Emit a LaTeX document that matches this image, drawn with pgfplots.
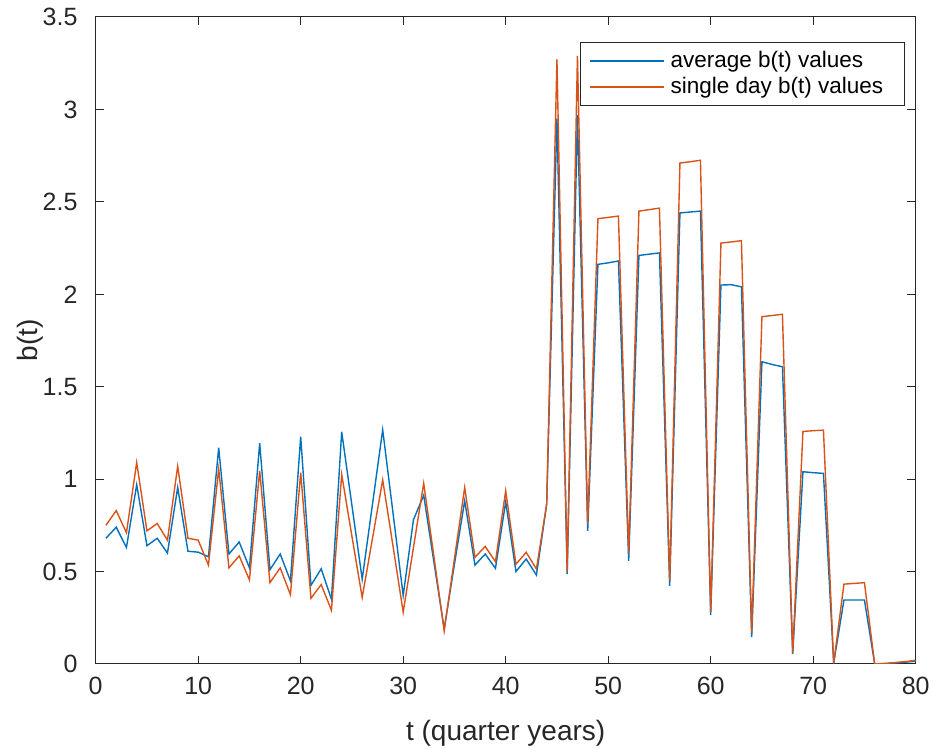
\documentclass[border=0pt]{standalone}
\usepackage{fontspec}
\setmainfont{Liberation Sans}
\usepackage{pgfplots}
\usepackage{pgfplotstable}
\pgfplotsset{compat=1.18}
\definecolor{mblue}{rgb}{0,0.447,0.741}
\definecolor{morange}{rgb}{0.85,0.325,0.098}
\definecolor{maxis}{rgb}{0.15,0.15,0.15}

\pgfplotstableread{
t avg single
1 0.68 0.75
2 0.74 0.83
3 0.63 0.71
4 0.97 1.09
5 0.64 0.72
6 0.68 0.76
7 0.60 0.67
8 0.955 1.07
9 0.61 0.68
10 0.605 0.67
11 0.58 0.535
12 1.17 1.055
13 0.595 0.52
14 0.66 0.585
15 0.52 0.455
16 1.195 1.045
17 0.51 0.44
18 0.595 0.52
19 0.45 0.375
20 1.23 1.035
21 0.425 0.355
22 0.515 0.43
23 0.35 0.29
24 1.256 1.025
25 0.857 0.69
26 0.459 0.36
27 0.863 0.678
28 1.267 0.996
29 0.82 0.64
30 0.37 0.28
31 0.78 0.63
32 0.913 0.978
33 0.55 0.58
34 0.19 0.18
35 0.54 0.57
36 0.883 0.955
37 0.535 0.577
38 0.595 0.636
39 0.517 0.553
40 0.877 0.937
41 0.50 0.54
42 0.568 0.604
43 0.481 0.514
44 0.865 0.865
45 2.95 3.27
46 0.486 0.50
47 2.97 3.29
48 0.72 0.76
49 2.162 2.409
50 2.17 2.416
51 2.18 2.423
52 0.558 0.60
53 2.21 2.45
54 2.217 2.458
55 2.224 2.466
56 0.423 0.45
57 2.44 2.71
58 2.445 2.717
59 2.45 2.725
60 0.265 0.28
61 2.05 2.277
62 2.052 2.283
63 2.04 2.29
64 0.145 0.17
65 1.635 1.879
66 1.62 1.885
67 1.608 1.892
68 0.054 0.06
69 1.04 1.258
70 1.035 1.262
71 1.031 1.265
72 0.005 0.005
73 0.346 0.432
74 0.346 0.436
75 0.346 0.44
76 0.0 0.0
77 0.002 0.003
78 0.005 0.008
79 0.01 0.013
80 0.015 0.02
}\datatable

\begin{document}
\begin{tikzpicture}
\useasboundingbox (-47.85pt,-42.5pt) rectangle (418.65pt,332pt);
\begin{axis}[
  at={(0pt,0pt)}, anchor=south west,
  width=410pt, height=323.5pt, scale only axis,
  xmin=0, xmax=80, ymin=0, ymax=3.5,
  xtick={0,10,20,30,40,50,60,70,80},
  ytick={0,0.5,1,1.5,2,2.5,3,3.5},
  xtick pos=both, ytick pos=both,
  tick align=inside,
  major tick length=4.1pt,
  axis line style={maxis, line width=0.5pt},
  every tick/.style={maxis, line width=0.5pt},
  /pgf/number format/assume math mode=true,
  ticklabel style={font=\fontsize{12.5}{15}\selectfont, text=maxis},
  yticklabel style={xshift=-5.6pt},
  xticklabel style={yshift=-3pt},
  xlabel={t (quarter years)},
  ylabel={b(t)},
  label style={font=\fontsize{14}{16}\selectfont, text=maxis},
  xlabel style={at={(axis description cs:0.5,-0.1066)}, anchor=center},
  ylabel style={at={(axis description cs:-0.0801,0.5)}, anchor=center},
  legend cell align=left,
  legend style={at={(rel axis cs:0.987,0.962)}, anchor=north east,
    draw=maxis, fill=white,
    font=\fontsize{11.25}{13}\selectfont,
    inner xsep=4pt, inner ysep=4.5pt, row sep=3.65pt, column sep=3pt,
    nodes={inner sep=0pt}},
]
\addplot[draw=mblue, line width=0.7pt, forget plot] table[x=t, y=avg] {\datatable};
\addplot[draw=morange, line width=0.7pt, forget plot] table[x=t, y=single] {\datatable};
\addlegendimage{legend image code/.code={\draw[mblue, line width=0.9pt] (0pt,0pt) -- (37pt,0pt);}}
\addlegendentry{\makebox[113pt][l]{\rule{0pt}{8pt}\rule[-2.5pt]{0pt}{2.5pt}average b(t) values}}
\addlegendimage{legend image code/.code={\draw[morange, line width=0.9pt] (0pt,0pt) -- (37pt,0pt);}}
\addlegendentry{\makebox[113pt][l]{\rule{0pt}{8pt}\rule[-2.5pt]{0pt}{2.5pt}single day b(t) values}}
\end{axis}
\end{tikzpicture}
\end{document}
